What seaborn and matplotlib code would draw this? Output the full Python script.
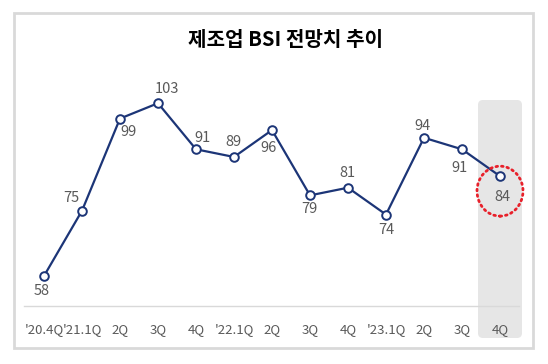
import matplotlib
matplotlib.use("Agg")
import matplotlib.pyplot as plt
import seaborn as sns
import pandas as pd
from matplotlib.patches import FancyBboxPatch, Ellipse, Rectangle
from matplotlib.transforms import IdentityTransform

title = "제조업 BSI 전망치 추이"
quarters = ["'20.4Q", "'21.1Q", "2Q", "3Q", "4Q", "'22.1Q", "2Q", "3Q", "4Q", "'23.1Q", "2Q", "3Q", "4Q"]
bsi = [58, 75, 99, 103, 91, 89, 96, 79, 81, 74, 94, 91, 84]

# label offsets in pixels (dx, dy up-positive)
label_offsets = [(-2, -15), (-11, 13), (9, -13), (9, 14), (7, 11), (-1, 15), (-3, -18),
                 (-1, -14), (-1, 15), (0, -15), (-1, 12), (-2, -19), (2, -21)]

sns.set_theme(style="white")
plt.rcParams['font.family'] = ['Noto Sans CJK KR', 'DejaVu Sans']

W, H = 548, 364
fig = plt.figure(figsize=(W / 100, H / 100), dpi=100)
fig.patch.set_facecolor("white")

# axes placement (pixels)
ax_left, ax_right, ax_bottom, ax_top = 24, 519, 306, 90
ax = fig.add_axes([ax_left / W, 1 - ax_bottom / H, (ax_right - ax_left) / W, (ax_bottom - ax_top) / H])
ax.set_facecolor("none")
ax.patch.set_alpha(0)
ax.set_zorder(2)

df = pd.DataFrame({"x": range(len(bsi)), "bsi": bsi})
navy = "#1c3577"
sns.lineplot(data=df, x="x", y="bsi", ax=ax, color=navy, linewidth=1.6,
             marker="o", markersize=6.2, markerfacecolor="white",
             markeredgecolor=navy, markeredgewidth=1.4, zorder=4)

ax.set_xlim(-0.526, 12.5)
ax.set_ylim(50.19, 106.44)
ax.set_xticks(range(len(quarters)))
ax.set_xticklabels(quarters, fontsize=9.5, color="#595959")
ax.tick_params(axis="x", length=0, pad=12)
ax.set_yticks([])
ax.set_xlabel("")
ax.set_ylabel("")
for s in ["left", "right", "top"]:
    ax.spines[s].set_visible(False)
ax.spines["bottom"].set_color("#d9d9d9")
ax.spines["bottom"].set_linewidth(1.0)

# data labels
for i, (v, (dx, dy)) in enumerate(zip(bsi, label_offsets)):
    ax.annotate(str(v), (i, v), xytext=(dx * 0.72, dy * 0.72), textcoords="offset points",
                ha="center", va="center", fontsize=10.5, color="#595959", zorder=5)

# highlight band for the last quarter (pixel coords)
fig.canvas.draw()
last = len(bsi) - 1
cx, _ = ax.transData.transform((last, bsi[last]))
band_w = 44
band_top_px, band_bot_px = 100, 338
band = FancyBboxPatch((cx - band_w / 2 + 5, (H - band_bot_px) + 5), band_w - 10,
                      (band_bot_px - band_top_px) - 10,
                      boxstyle="round,pad=5", transform=IdentityTransform(),
                      facecolor="#e6e6e6", edgecolor="none", zorder=-1)
fig.patches.append(band)

# red dotted circle around last point
ell = Ellipse((last, bsi[last] - 3.9), width=1.21, height=13.0, fill=False,
              edgecolor="#e8202a", linewidth=2.0, linestyle=(0, (0.6, 1.4)),
              zorder=6, clip_on=False)
ell.set_capstyle("round")
ax.add_patch(ell)

# outer border
border = Rectangle((14 / W, 1 - 348 / H), 519 / W, 335 / H, transform=fig.transFigure,
                   fill=False, edgecolor="#d9d9d9", linewidth=2.0, zorder=10)
fig.patches.append(border)

fig.text(285 / W, 1 - 40 / H, title, ha="center", va="center", fontsize=14.5,
         fontweight="bold", color="black")

fig.savefig("out.png", dpi=100, facecolor="white")
